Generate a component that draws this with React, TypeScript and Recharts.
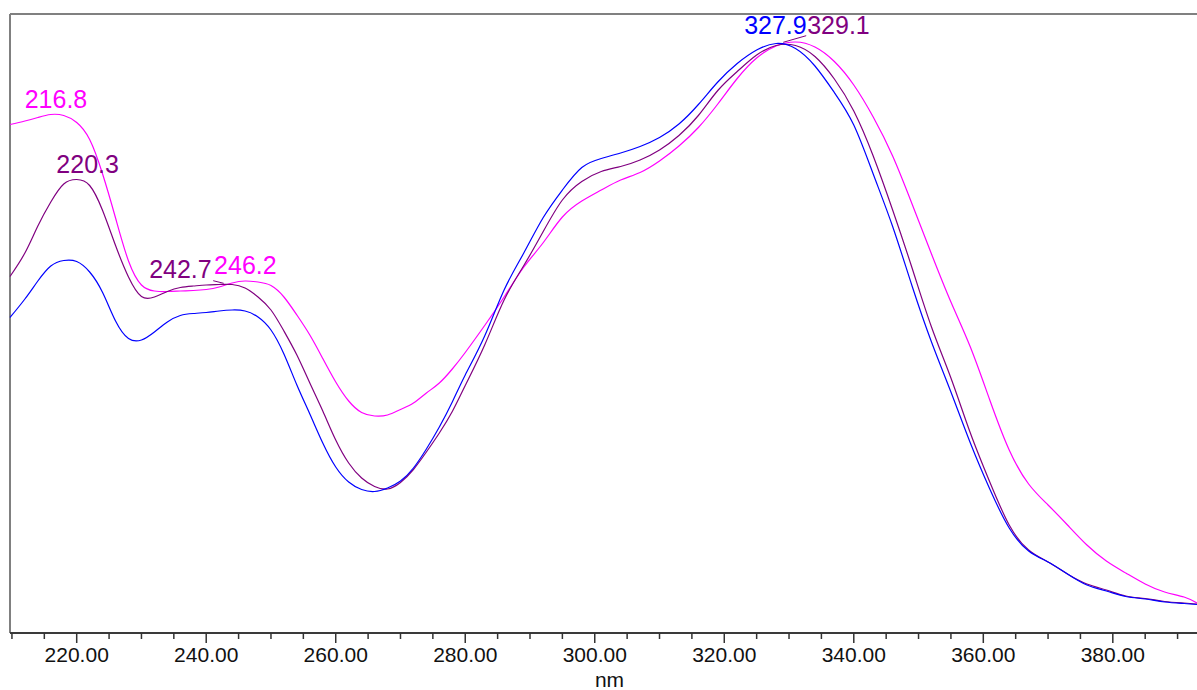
import React from 'react';
import { LineChart, Line, XAxis, YAxis, ReferenceLine, ReferenceDot, Label } from 'recharts';

// wavelength grid (nm) and absorbance
const wavelengths = [
  209.7, 212, 214, 216, 218, 220, 222, 224, 226, 228, 230, 232, 234, 236, 238, 240, 242, 244, 246, 248,
  250, 252, 254, 256, 258, 260, 262, 264, 266, 268, 270, 272, 274, 276, 278, 280,
  283, 286, 289, 292, 295, 298, 301, 304, 307, 310, 313, 316, 319, 322, 325, 328, 331, 334, 337, 340,
  343, 346, 349, 352, 355, 358, 361, 364, 367, 370, 373, 376, 379, 382, 385, 388, 391, 393,
];

const blueAbs = [
  0.631, 0.668, 0.704, 0.734, 0.745, 0.743, 0.722, 0.681, 0.624, 0.589, 0.586, 0.602, 0.622, 0.635, 0.639, 0.641, 0.644, 0.646, 0.644, 0.632,
  0.606, 0.558, 0.496, 0.438, 0.380, 0.332, 0.302, 0.287, 0.283, 0.290, 0.304, 0.330, 0.368, 0.412, 0.462, 0.516,
  0.594, 0.686, 0.759, 0.830, 0.886, 0.931, 0.949, 0.960, 0.973, 0.991, 1.018, 1.057, 1.102, 1.139, 1.166, 1.179, 1.169, 1.134, 1.081, 1.016,
  0.918, 0.813, 0.694, 0.582, 0.482, 0.380, 0.288, 0.210, 0.164, 0.142, 0.118, 0.096, 0.084, 0.073, 0.068, 0.062, 0.059, 0.057,
];

const purpleAbs = [
  0.713, 0.760, 0.814, 0.862, 0.898, 0.907, 0.895, 0.845, 0.775, 0.712, 0.673, 0.672, 0.683, 0.691, 0.694, 0.696, 0.697, 0.697, 0.690, 0.672,
  0.646, 0.604, 0.556, 0.500, 0.444, 0.386, 0.340, 0.310, 0.293, 0.288, 0.301, 0.327, 0.362, 0.400, 0.443, 0.495,
  0.576, 0.666, 0.734, 0.802, 0.866, 0.903, 0.923, 0.933, 0.946, 0.966, 0.995, 1.035, 1.085, 1.123, 1.156, 1.175, 1.175, 1.153, 1.108, 1.044,
  0.954, 0.846, 0.730, 0.612, 0.510, 0.400, 0.302, 0.216, 0.166, 0.142, 0.118, 0.098, 0.086, 0.074, 0.069, 0.063, 0.060, 0.058,
];

const magentaAbs = [
  1.017, 1.024, 1.031, 1.037, 1.035, 1.021, 0.987, 0.918, 0.830, 0.744, 0.696, 0.684, 0.683, 0.684, 0.685, 0.687, 0.692, 0.700, 0.704, 0.702,
  0.695, 0.672, 0.636, 0.596, 0.549, 0.502, 0.464, 0.441, 0.434, 0.436, 0.447, 0.460, 0.480, 0.500, 0.528, 0.561,
  0.615, 0.672, 0.731, 0.780, 0.832, 0.864, 0.886, 0.906, 0.921, 0.944, 0.974, 1.011, 1.058, 1.109, 1.150, 1.174, 1.182, 1.172, 1.143, 1.096,
  1.032, 0.954, 0.858, 0.758, 0.662, 0.572, 0.466, 0.366, 0.298, 0.256, 0.216, 0.176, 0.144, 0.120, 0.098, 0.082, 0.072, 0.060,
];

const tickValues = [
  210, 215, 220, 225, 230, 235, 240, 245, 250, 255, 260, 265, 270, 275, 280, 285, 290, 295, 300,
  305, 310, 315, 320, 325, 330, 335, 340, 345, 350, 355, 360, 365, 370, 375, 380, 385, 390,
];

const peakNm = [216.8, 220.3, 242.7, 246.2, 327.9, 329.1];
const peakAbs = [1.037, 0.907, 0.697, 0.704, 1.18, 1.178];
const peakSeries = ['magenta', 'purple', 'purple', 'magenta', 'blue', 'purple'];

const COLORS: Record<string, string> = { blue: '#0000ff', purple: '#800080', magenta: '#ff00ff' };
const FONT = '"Liberation Sans", Arial, sans-serif';

// text placement relative to each peak
const tagStyle = [
  { dx: 0, dy: -7, anchor: 'middle' },
  { dx: 9, dy: -7, anchor: 'middle' },
  { dx: -12, dy: -7, anchor: 'end', lead: [-10.5, -3.8, 0, -1.2] },
  { dx: -1, dy: -7, anchor: 'middle' },
  { dx: 0, dy: -9, anchor: 'middle' },
  { dx: 24, dy: -10, anchor: 'start', lead: [0, -1.7, 23, -8.3] },
];

const rows = wavelengths.map((nm, i) => ({
  nm,
  blue: blueAbs[i],
  purple: purpleAbs[i],
  magenta: magentaAbs[i],
}));

const NmTick = (props: any) => {
  const { x, y, payload } = props;
  const major = payload.value % 20 === 0;
  return (
    <g>
      <line x1={x} y1={y} x2={x} y2={y + (major ? 10 : 6)} stroke="#333" strokeWidth={1.5} />
      {major && (
        <text x={x} y={y + 29} textAnchor="middle" fontSize={21} fontFamily={FONT} fill="#111">
          {payload.value.toFixed(2)}
        </text>
      )}
    </g>
  );
};

export default function App() {
  return (
    <div style={{ position: 'absolute', left: 0, top: 0, width: 1197, height: 690, background: '#fff' }}>
      <LineChart width={1197} height={690} data={rows} margin={{ top: 14, right: 0, bottom: 0, left: 10 }}>
        <XAxis
          dataKey="nm"
          type="number"
          domain={[209.7, 393]}
          ticks={tickValues}
          interval={0}
          height={57}
          tickSize={0}
          tickMargin={0}
          tickLine={false}
          tick={<NmTick />}
          axisLine={{ stroke: '#3a3a3a', strokeWidth: 2 }}
        >
          <Label value="nm" position="insideBottom" offset={3} dx={6} fontSize={21} fontFamily={FONT} fill="#111" />
        </XAxis>
        <YAxis hide type="number" domain={[0, 1.238]} allowDataOverflow />
        <ReferenceLine x={209.7} stroke="#808080" strokeWidth={2} />
        <ReferenceLine y={1.238} stroke="#808080" strokeWidth={2} />
        <Line dataKey="magenta" type="natural" stroke={COLORS.magenta} strokeWidth={1.2} dot={false} isAnimationActive={false} />
        <Line dataKey="purple" type="natural" stroke={COLORS.purple} strokeWidth={1.2} dot={false} isAnimationActive={false} />
        <Line dataKey="blue" type="natural" stroke={COLORS.blue} strokeWidth={1.2} dot={false} isAnimationActive={false} />
        {peakNm.map((nm, i) => {
          const st = tagStyle[i];
          const color = COLORS[peakSeries[i]];
          return (
            <ReferenceDot
              key={nm}
              x={nm}
              y={peakAbs[i]}
              r={0}
              ifOverflow="visible"
              shape={(s: any) => (
                <g>
                  {st.lead && (
                    <line
                      x1={s.cx + st.lead[0]}
                      y1={s.cy + st.lead[1]}
                      x2={s.cx + st.lead[2]}
                      y2={s.cy + st.lead[3]}
                      stroke={color}
                      strokeWidth={1}
                    />
                  )}
                  <text x={s.cx + st.dx} y={s.cy + st.dy} textAnchor={st.anchor} fontSize={25} fontFamily={FONT} fill={color}>
                    {nm.toFixed(1)}
                  </text>
                </g>
              )}
            />
          );
        })}
      </LineChart>
    </div>
  );
}
